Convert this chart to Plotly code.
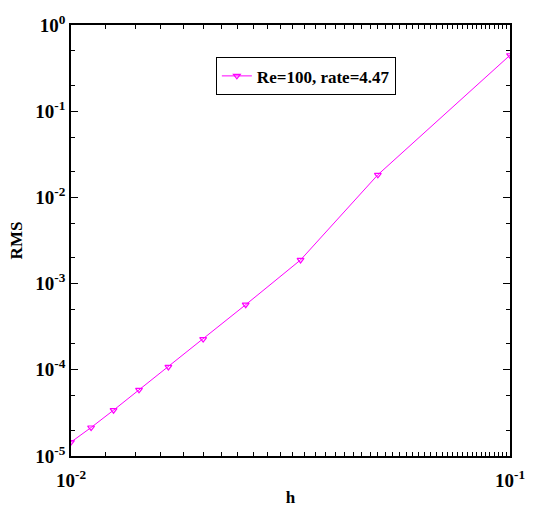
import plotly.graph_objects as go

h = [1/100, 1/90, 1/80, 1/70, 1/60, 1/50, 1/40, 1/30, 1/20, 1/10]
rms = [1.45e-5, 2.14e-5, 3.40e-5, 5.86e-5, 1.08e-4, 2.27e-4, 5.69e-4, 1.88e-3, 1.83e-2, 0.446]
series_name = "Re=100, rate=4.47"

x_tickvals = [1e-2, 1e-1]
x_ticktext = ["10<sup>-2</sup>", "10<sup>-1</sup>"]
y_tickvals = [1e-5, 1e-4, 1e-3, 1e-2, 1e-1, 1e0]
y_ticktext = ["10<sup>-5</sup>", "10<sup>-4</sup>", "10<sup>-3</sup>", "10<sup>-2</sup>", "10<sup>-1</sup>", "10<sup>0</sup>"]

font_family = "Liberation Serif"
magenta = "#FF00FF"

fig = go.Figure()
fig.add_trace(go.Scatter(
    x=h, y=rms, mode="lines+markers", name=series_name,
    line=dict(color=magenta, width=1),
    marker=dict(symbol="triangle-down-open", size=6, color=magenta, line=dict(width=1.2, color=magenta)),
))

axis_common = dict(
    type="log", showgrid=False, zeroline=False,
    showline=True, linecolor="black", linewidth=1.5, mirror="allticks",
    ticks="inside", ticklen=7, tickcolor="black", tickwidth=1,
    tickfont=dict(family=font_family, size=19, color="black", weight="bold"),
    ticklabeloverflow="allow",
    minor=dict(ticks="inside", ticklen=4, tickcolor="black", tickwidth=1, showgrid=False),
)

fig.update_xaxes(range=[-2, -1], tickvals=x_tickvals, ticktext=x_ticktext,
                 ticklabelstandoff=6,
                 title=dict(text="<b>h</b>", font=dict(family=font_family, size=17, color="black"), standoff=2),
                 **axis_common)
fig.update_yaxes(range=[-5, 0], tickvals=y_tickvals, ticktext=y_ticktext,
                 title=dict(text="<b>RMS</b>", font=dict(family=font_family, size=17, color="black"), standoff=8),
                 **axis_common)

fig.update_layout(
    width=537, height=516,
    margin=dict(l=71, r=21, t=21, b=53),
    plot_bgcolor="white", paper_bgcolor="white",
    font=dict(family=font_family, color="black"),
    showlegend=True,
    legend=dict(x=0.33, y=0.925, xanchor="left", yanchor="top",
                bgcolor="white", bordercolor="black", borderwidth=1,
                font=dict(family=font_family, size=17, color="black", weight="bold"),
                itemwidth=30, tracegroupgap=0),
)

fig.write_html("out.html",
               config={"displayModeBar": False},
               post_script="document.body.style.margin='0';document.body.style.overflow='hidden';")
